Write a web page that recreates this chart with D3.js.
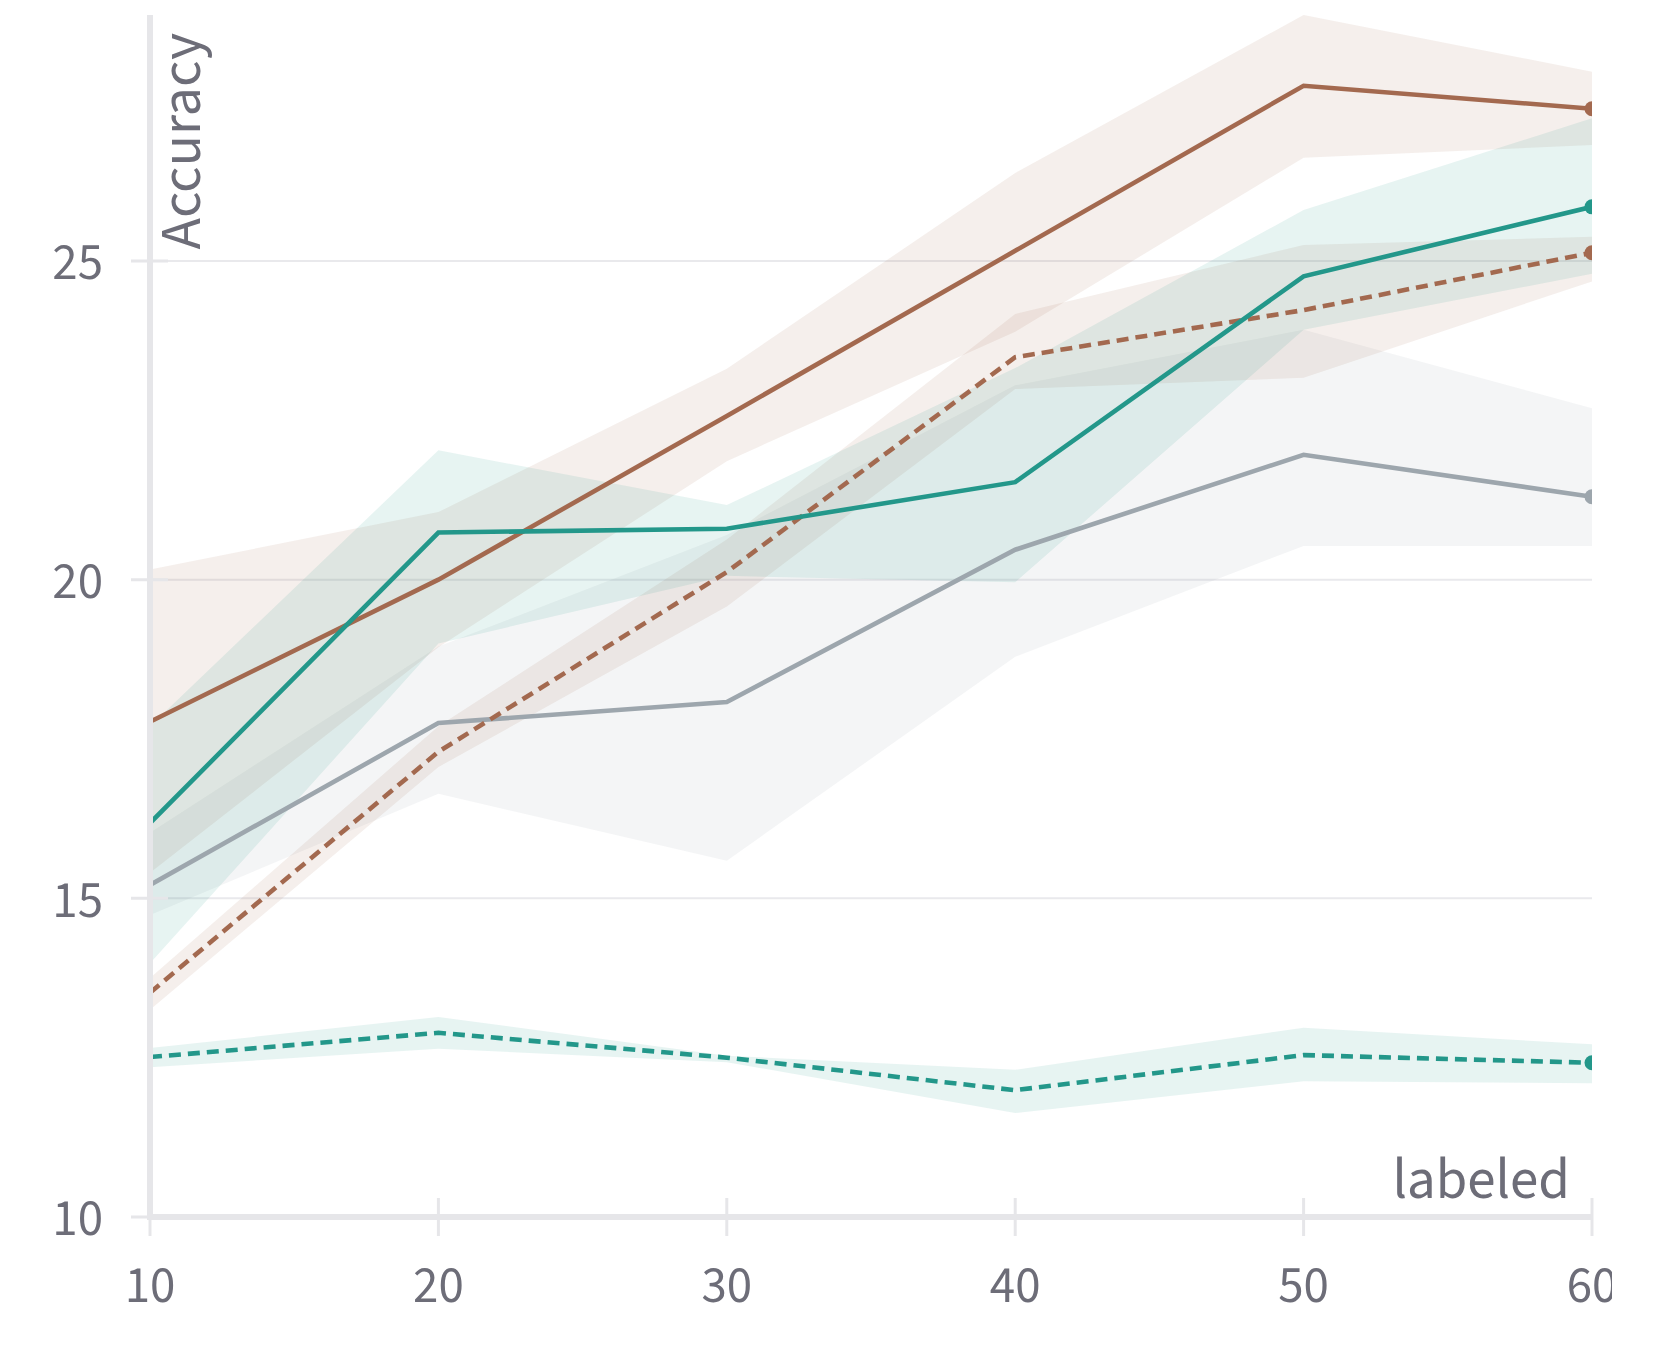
<!DOCTYPE html>
<html>
<head>
<meta charset="utf-8">
<script src="https://cdn.jsdelivr.net/npm/d3@7"></script>
<style>
  body { margin: 0; background: #fff; }
  text { font-family: "Source Sans Pro", "Source Sans 3", Lato, sans-serif; fill: #6d6d78; }
</style>
</head>
<body>
<div id="chart"></div>
<script>
// x values (labeled)
var labeled = [10, 20, 30, 40, 50, 60];
var xTicks = [10, 20, 30, 40, 50, 60];
var yTicks = [10, 15, 20, 25];

// brown, solid
var brownSolidMean = [17.77, 20.0, 22.57, 25.16, 27.75, 27.39];
var brownSolidUpper = [20.16, 21.06, 23.31, 26.38, 28.86, 27.97];
var brownSolidLower = [15.4, 18.94, 21.86, 23.89, 26.62, 26.82];

// teal, solid
var tealSolidMean = [16.18, 20.74, 20.8, 21.53, 24.76, 25.85];
var tealSolidUpper = [17.7, 22.03, 21.17, 23.32, 25.8, 27.24];
var tealSolidLower = [13.98, 19.0, 20.06, 19.96, 23.92, 24.8];

// gray, solid
var grayMean = [15.21, 17.75, 18.08, 20.47, 21.96, 21.3];
var grayUpper = [16.03, 18.95, 20.7, 23.05, 23.92, 22.69];
var grayLower = [14.74, 16.64, 15.59, 18.79, 20.53, 20.53];

// brown, dashed
var brownDashMean = [13.52, 17.3, 20.12, 23.49, 24.23, 25.13];
var brownDashUpper = [13.75, 17.7, 20.63, 24.17, 25.25, 25.38];
var brownDashLower = [13.25, 17.06, 19.58, 22.99, 23.17, 24.68];

// teal, dashed
var tealDashMean = [12.51, 12.89, 12.5, 11.99, 12.54, 12.42];
var tealDashUpper = [12.65, 13.14, 12.53, 12.31, 12.97, 12.71];
var tealDashLower = [12.35, 12.64, 12.43, 11.63, 12.13, 12.1];

var brown = "#a3694f";
var teal = "#23978a";
var gray = "#9da6ad";
var axisColor = "#e6e6e9";

// series table built from the arrays above, drawing order
var series = [
  {mean: grayMean, upper: grayUpper, lower: grayLower, color: gray, dash: null},
  {mean: brownDashMean, upper: brownDashUpper, lower: brownDashLower, color: brown, dash: "12,7"},
  {mean: tealDashMean, upper: tealDashUpper, lower: tealDashLower, color: teal, dash: "12,7"},
  {mean: brownSolidMean, upper: brownSolidUpper, lower: brownSolidLower, color: brown, dash: null},
  {mean: tealSolidMean, upper: tealSolidUpper, lower: tealSolidLower, color: teal, dash: null}
];

// SVG size and plot edges
var svgWidth = 1612;
var svgHeight = 1364;
var plot = {left: 150, right: 1592, top: 15, bottom: 1217};

var svg = d3.select("#chart")
  .append("svg")
  .attr("width", svgWidth)
  .attr("height", svgHeight);

var x = d3.scaleLinear()
  .domain([10, 60])
  .range([plot.left, plot.right]);

var yMax = d3.max(series, s => d3.max(s.upper));
var y = d3.scaleLinear()
  .domain([10, yMax])
  .range([plot.bottom, plot.top]);

svg.append("clipPath")
  .attr("id", "plot-clip")
  .append("rect")
  .attr("x", plot.left)
  .attr("y", 0)
  .attr("width", plot.right - plot.left)
  .attr("height", plot.bottom);

// horizontal grid
svg.append("g")
  .selectAll("line")
  .data(yTicks.filter(d => d > 10))
  .enter()
  .append("line")
  .attr("x1", plot.left)
  .attr("x2", plot.right)
  .attr("y1", d => y(d))
  .attr("y2", d => y(d))
  .attr("stroke", "#e9e9ec")
  .attr("stroke-width", 2);

// bands
var area = d3.area()
  .x(d => x(d.x))
  .y0(d => y(d.lo))
  .y1(d => y(d.hi));

var line = d3.line()
  .x(d => x(d.x))
  .y(d => y(d.v));

var dataG = svg.append("g").attr("clip-path", "url(#plot-clip)");

series.forEach(function(s) {
  var pts = labeled.map((v, i) => ({x: v, lo: s.lower[i], hi: s.upper[i]}));
  dataG.append("path")
    .datum(pts)
    .attr("d", area)
    .attr("fill", s.color)
    .attr("fill-opacity", 0.11);
});

// lines and end dots
series.forEach(function(s) {
  var pts = labeled.map((v, i) => ({x: v, v: s.mean[i]}));
  dataG.append("path")
    .datum(pts)
    .attr("d", line)
    .attr("fill", "none")
    .attr("stroke", s.color)
    .attr("stroke-width", 4.6)
    .attr("stroke-dasharray", s.dash);
  var last = pts[pts.length - 1];
  dataG.append("circle")
    .attr("cx", x(last.x))
    .attr("cy", y(last.v))
    .attr("r", 7.5)
    .attr("fill", s.color);
});

// axis lines
svg.append("line")
  .attr("x1", plot.left)
  .attr("x2", plot.left)
  .attr("y1", plot.top)
  .attr("y2", plot.bottom + 3)
  .attr("stroke", axisColor)
  .attr("stroke-width", 6);

svg.append("line")
  .attr("x1", plot.left - 3)
  .attr("x2", plot.right)
  .attr("y1", plot.bottom)
  .attr("y2", plot.bottom)
  .attr("stroke", axisColor)
  .attr("stroke-width", 6);

// x ticks and labels
var xTickG = svg.append("g")
  .selectAll("g")
  .data(xTicks)
  .enter()
  .append("g")
  .attr("transform", d => `translate(${x(d)}, 0)`);

xTickG.append("line")
  .attr("y1", plot.bottom - 19)
  .attr("y2", plot.bottom + 19)
  .attr("stroke", axisColor)
  .attr("stroke-width", 3);

xTickG.append("text")
  .attr("y", 1302)
  .attr("text-anchor", "middle")
  .style("font-size", "51px")
  .text(d => d);

// y ticks and labels
var yTickG = svg.append("g")
  .selectAll("g")
  .data(yTicks)
  .enter()
  .append("g")
  .attr("transform", d => `translate(0, ${y(d)})`);

yTickG.append("line")
  .attr("x1", plot.left - 19)
  .attr("x2", plot.left + 18)
  .attr("stroke", axisColor)
  .attr("stroke-width", 3);

yTickG.append("text")
  .attr("x", 103)
  .attr("dy", "0.36em")
  .attr("text-anchor", "end")
  .style("font-size", "51px")
  .text(d => d);

// axis titles
svg.append("text")
  .attr("x", 1570)
  .attr("y", 1198)
  .attr("text-anchor", "end")
  .style("font-size", "57px")
  .text("labeled");

svg.append("text")
  .attr("transform", "translate(200, 33) rotate(-90)")
  .attr("text-anchor", "end")
  .style("font-size", "58px")
  .text("Accuracy");
</script>
</body>
</html>
